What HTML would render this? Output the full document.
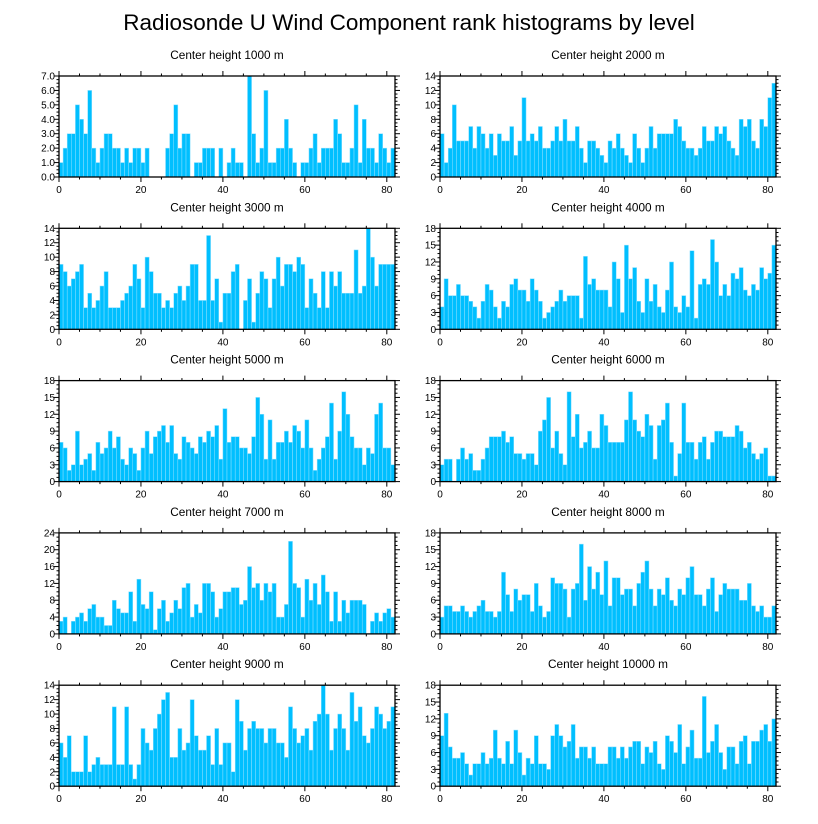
<!DOCTYPE html>
<html><head><meta charset="utf-8"><style>
html,body{margin:0;padding:0;background:#fff;}
svg{display:block;font-family:"Liberation Sans",Arial,sans-serif;}
</style></head><body>
<svg id="chart" width="818" height="824" viewBox="0 0 818 824">
<text x="409" y="30" text-anchor="middle" font-size="22.5">Radiosonde U Wind Component rank histograms by level</text>
</svg>
<script>
const levels = ["1000","2000","3000","4000","5000","6000","7000","8000","9000","10000"];
const yMax = [7,14,14,18,18,18,24,18,14,18];
const yStep = [1,2,2,3,3,3,4,3,2,3];
const xTicks = [0,20,40,60,80];
const counts1000 = [1,2,3,3,5,4,3,6,2,1,2,3,3,2,2,1,2,1,2,2,1,2,0,0,0,0,2,3,5,2,3,3,0,1,1,2,2,2,0,2,0,1,2,1,1,0,7,3,1,2,6,1,1,2,2,4,2,1,0,1,1,2,3,1,2,2,2,4,3,1,1,2,5,1,4,2,2,1,3,2,1,2];
const counts2000 = [6,2,4,10,5,5,5,7,4,7,6,4,6,3,6,5,5,7,3,5,11,5,6,5,7,4,4,5,7,5,8,5,5,7,4,2,5,5,4,3,2,5,4,6,4,3,2,6,4,2,4,7,4,6,6,6,6,8,7,5,4,4,3,4,7,5,5,7,6,7,5,4,3,8,7,8,5,4,8,7,11,13];
const counts3000 = [9,8,6,7,8,9,3,5,3,4,6,8,3,3,3,4,5,6,9,7,3,10,8,5,5,3,4,3,5,6,4,6,9,9,4,4,13,4,7,1,5,5,8,9,0,4,7,1,5,8,7,3,7,10,6,9,9,8,10,9,3,7,5,3,8,3,8,6,8,5,5,5,11,5,6,14,10,6,9,9,9,9];
const counts4000 = [4,9,6,6,8,6,6,5,4,2,5,8,7,4,2,5,4,8,9,7,7,5,9,7,5,2,3,4,5,7,5,6,6,6,2,13,8,9,7,7,7,4,12,9,3,15,9,11,5,3,9,5,8,4,3,7,12,4,3,6,4,14,2,8,9,8,16,12,6,8,6,10,9,11,7,6,8,7,11,9,10,15];
const counts5000 = [7,6,2,3,9,3,4,5,2,7,5,6,9,6,8,4,3,6,5,2,6,9,5,8,9,10,7,10,5,4,8,7,6,5,8,7,9,8,10,4,13,7,8,8,6,6,5,8,15,12,4,11,4,7,7,9,7,10,9,6,11,6,2,4,6,8,14,4,9,16,12,8,6,6,3,6,5,12,14,6,6,3];
const counts6000 = [3,4,4,0,4,6,4,5,2,2,4,6,8,8,8,9,7,8,5,5,4,5,5,3,9,11,15,6,9,5,3,16,8,12,6,7,9,6,6,12,10,7,7,7,7,11,16,11,9,8,12,10,4,10,11,14,7,1,5,14,7,7,4,7,8,4,7,9,9,8,8,8,10,9,6,7,5,4,5,6,1,1];
const counts7000 = [3,4,0,3,4,5,3,6,7,4,4,2,2,8,6,5,5,10,3,13,7,6,10,1,6,8,3,5,8,6,11,12,4,7,5,12,12,10,4,6,10,10,11,11,7,8,16,11,12,8,12,10,12,4,4,7,22,12,11,4,13,8,12,7,14,10,3,10,3,8,5,8,8,8,7,0,3,5,3,5,6,4];
const counts8000 = [3,5,5,4,4,5,4,3,4,5,6,4,4,3,4,11,7,4,8,6,7,7,4,9,5,3,4,10,9,9,8,3,8,9,16,6,12,8,11,7,13,5,10,10,7,8,8,5,9,11,13,8,5,8,7,10,6,5,8,7,10,12,7,7,5,8,10,4,7,9,8,8,8,6,6,9,5,4,5,3,3,5];
const counts9000 = [6,4,7,2,2,2,7,2,3,4,3,3,3,11,3,3,11,3,1,3,8,6,5,8,10,12,13,4,4,8,5,6,12,7,5,5,7,3,8,3,6,6,2,12,9,5,8,9,8,8,6,8,8,6,6,4,11,8,6,7,8,5,9,10,14,10,5,8,10,8,5,13,9,11,7,6,8,11,10,8,9,11];
const counts10000 = [9,13,7,5,5,6,4,2,4,4,6,4,5,10,5,4,8,4,10,6,2,5,4,9,4,4,3,9,11,9,7,8,11,5,7,7,5,7,4,4,4,7,7,5,7,5,7,8,8,4,7,6,8,4,3,9,8,6,11,4,7,10,5,5,16,6,8,11,6,3,7,7,4,8,9,4,8,8,10,11,8,12];
const allCounts = [counts1000,counts2000,counts3000,counts4000,counts5000,counts6000,counts7000,counts8000,counts9000,counts10000];

const NS = "http://www.w3.org/2000/svg";
const svg = document.getElementById("chart");
function mk(tag, attrs, parent){
  const e = document.createElementNS(NS, tag);
  for (const k in attrs) e.setAttribute(k, attrs[k]);
  parent.appendChild(e);
  return e;
}
const X_MAX = 82, PW = 336, PH = 101;
for (let p = 0; p < 10; p++) {
  const col = p % 2, row = Math.floor(p / 2);
  const x0 = col === 0 ? 59 : 440;
  const y0 = 76 + row * 152.3;
  const data = allCounts[p], ym = yMax[p], ys = yStep[p];
  const sx = v => x0 + v / X_MAX * PW;
  const sy = v => y0 + PH - v / ym * PH;
  const g = mk("g", {}, svg);
  
  
  const t = mk("text", {x: x0 + PW / 2, y: y0 - 17, "text-anchor": "middle", "font-size": "11.8"}, g);
  t.textContent = "Center height " + levels[p] + " m";
  
  
  for (let i = 0; i < data.length; i++) {
    const r = mk("rect", {x: sx(i), y: sy(data[i]), width: PW / X_MAX, height: sy(0) - sy(data[i]), fill: "#00bfff", stroke: "#8fe0ff", "stroke-width": "0.5"}, g);
    
    
  }
  const frame = mk("rect", {x: x0, y: y0, width: PW, height: PH, fill: "none", stroke: "#000", "stroke-width": "1.3"}, g);
  
  
  for (let v = 0; v <= X_MAX; v += 5) {
    const major = v % 20 === 0, L = major ? 5 : 2.5, xx = sx(v);
    mk("line", {x1: xx, y1: y0 + PH, x2: xx, y2: y0 + PH + L, stroke: "#000", "stroke-width": "1"}, g);
    mk("line", {x1: xx, y1: y0, x2: xx, y2: y0 - L, stroke: "#000", "stroke-width": "1"}, g);
  }
  for (const v of xTicks) {
    const lt = mk("text", {x: sx(v), y: y0 + PH + 16, "text-anchor": "middle", "font-size": "10"}, g);
    lt.textContent = v;
    
    
  }
  const minor = ys / 4;
  for (let k = 0; k * minor <= ym + 1e-9; k++) {
    const v = k * minor, major = k % 4 === 0, L = major ? 5 : 2.5, yy = sy(v);
    mk("line", {x1: x0, y1: yy, x2: x0 - L, y2: yy, stroke: "#000", "stroke-width": "1"}, g);
    mk("line", {x1: x0 + PW, y1: yy, x2: x0 + PW + L, y2: yy, stroke: "#000", "stroke-width": "1"}, g);
  }
  for (let v = 0; v <= ym; v += ys) {
    const lt = mk("text", {x: x0 - 4, y: sy(v) + 3.5, "text-anchor": "end", "font-size": "10"}, g);
    lt.textContent = p === 0 ? v.toFixed(1) : v;
    
    
  }
}
</script>
</body></html>
